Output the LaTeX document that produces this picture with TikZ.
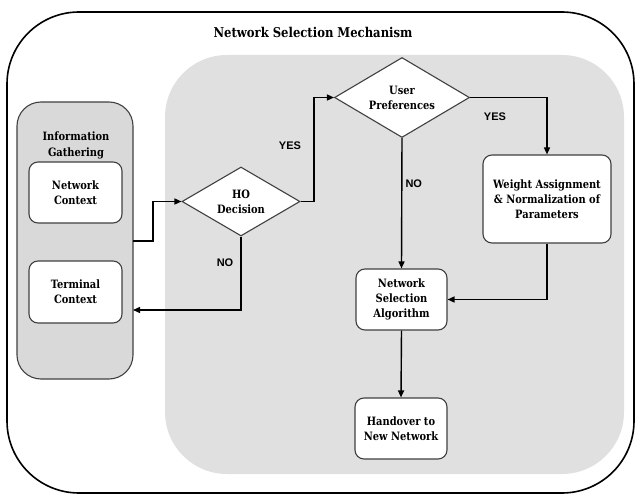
\documentclass[tikz,border=0pt]{standalone}
\usepackage{fontspec}
\setmainfont{DejaVu Serif}[FakeStretch=0.86]
\newfontfamily\lblfont{Liberation Sans}
\usetikzlibrary{shapes.geometric,arrows.meta}
\definecolor{regiongray}{HTML}{E0E0E0}
\definecolor{infogray}{HTML}{D9D9D9}
\definecolor{edgegray}{HTML}{404040}
\tikzset{
  boxnode/.style={draw=edgegray, line width=1.1pt, fill=white, rounded corners=9pt, align=center,
    font=\bfseries\fontsize{11.5}{15}\selectfont, inner sep=1pt},
  decnode/.style={draw=edgegray, line width=1.1pt, fill=white, diamond, aspect=1.75, align=center,
    font=\bfseries\fontsize{11.5}{15}\selectfont, inner sep=0pt},
  conn/.style={draw=black, line width=1.4pt, -{Triangle[length=7pt,width=6pt]}},
  lbl/.style={font=\lblfont\bfseries\fontsize{11}{12}\selectfont}
}
\begin{document}
\begin{tikzpicture}[x=1pt,y=-1pt]
\useasboundingbox (0,0) rectangle (638,495);
% outer frame
\draw[line width=1.6pt, rounded corners=72pt] (7,12) rectangle (634,493);
\node[font=\bfseries\fontsize{13.5}{15}\selectfont] (title) at (313,32) {Network Selection Mechanism};
% gray region
\fill[regiongray, rounded corners=62pt] (165,55) rectangle (624,474);
% information gathering
\draw[draw=edgegray, line width=1.1pt, fill=infogray, rounded corners=24pt] (17,102) rectangle (133,379);
\coordinate (infoR1) at (133,241);
\coordinate (infoR2) at (133,310);
\node[font=\bfseries\fontsize{11.5}{16}\selectfont, align=center] (infotitle) at (76,145) {Information\\Gathering};
\node[boxnode, minimum width=93pt, minimum height=61pt] (nc) at (75.5,192.5) {Network\\Context};
\node[boxnode, minimum width=93pt, minimum height=62pt] (tc) at (75.5,292) {Terminal\\Context};
% decisions
\node[decnode, minimum width=118pt, minimum height=69pt] (ho) at (241,201.5) {HO\\Decision};
\node[decnode, minimum width=135pt, minimum height=80pt] (up) at (402,97.5) {User\\Preferences};
% process boxes
\node[boxnode, minimum width=128pt, minimum height=88pt] (wa) at (547,199) {Weight Assignment\\\& Normalization of\\Parameters};
\node[boxnode, minimum width=91pt, minimum height=61pt] (nsa) at (401.5,299.5) {Network\\Selection\\Algorithm};
\node[boxnode, minimum width=92pt, minimum height=61pt] (hn) at (401,428.5) {Handover to\\New Network};
% connectors
\draw[conn] (infoR1) -- (153,241) |- (ho.west);
\draw[conn] (ho.south) |- (infoR2);
\draw[conn] (ho.east) -- (314,201.5) |- (up.west);
\draw[conn] (up.east) -| (wa.north);
\draw[conn] (up.south) -- (nsa.north);
\draw[conn] (wa.south) |- (nsa.east);
\draw[conn] (nsa.south) -- (hn.north);
% labels
\node[lbl] (yes1) at (290,146) {YES};
\node[lbl] (no1) at (225,263) {NO};
\node[lbl] (yes2) at (495,117) {YES};
\node[lbl, anchor=west] (no2) at (402,184) {NO};
\end{tikzpicture}
\end{document}
